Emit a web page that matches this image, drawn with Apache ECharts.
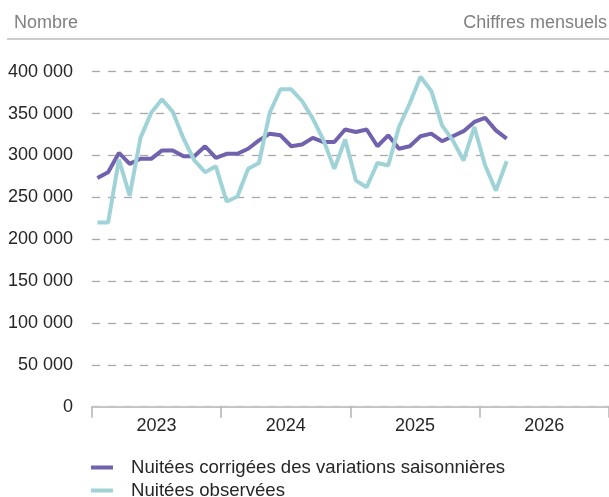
<!DOCTYPE html>
<html><head><meta charset="utf-8">
<script src="https://cdn.jsdelivr.net/npm/echarts@6/dist/echarts.min.js"></script>
<style>html,body{margin:0;padding:0;background:#fff}#c{width:609px;height:497px}</style>
</head><body><div id="c"></div>
<script>
// Monthly categories (Jan 2023 – Dec 2026)
const categories = [
  '2023-01','2023-02','2023-03','2023-04','2023-05','2023-06','2023-07','2023-08','2023-09','2023-10','2023-11','2023-12',
  '2024-01','2024-02','2024-03','2024-04','2024-05','2024-06','2024-07','2024-08','2024-09','2024-10','2024-11','2024-12',
  '2025-01','2025-02','2025-03','2025-04','2025-05','2025-06','2025-07','2025-08','2025-09','2025-10','2025-11','2025-12',
  '2026-01','2026-02','2026-03','2026-04','2026-05','2026-06','2026-07','2026-08','2026-09','2026-10','2026-11','2026-12'
];
const seriesNames = ['Nuitées corrigées des variations saisonnières', 'Nuitées observées'];
const corrigees = [
  273000,280000,303000,290000,296000,296000,306000,306000,299000,299000,311000,297000,
  302000,302000,308000,318000,326000,324000,311000,313000,321000,316000,316000,331000,
  328000,331000,311000,324000,308000,311000,323000,326000,317000,323000,329000,340000,
  345000,330000,320000
];
const observees = [
  220000,220000,295000,252000,321000,351000,367000,352000,320000,294000,280000,287000,
  245000,251000,284000,291000,351000,379000,379000,365000,344000,318000,284000,319000,
  270000,262000,291000,288000,334000,362000,394000,377000,336000,318000,294000,334000,
  288000,258000,293000
];
const yMin = 0, yMax = 400000, yStep = 50000;
const headerLeft = 'Nombre';
const headerRight = 'Chiffres mensuels';

const FONT = '"Liberation Sans", Arial, sans-serif';
const PURPLE = '#7261ad';
const CYAN = '#9fd3d7';

const chart = echarts.init(document.getElementById('c'), null, {renderer: 'canvas'});
const fmt = v => String(v).replace(/\B(?=(\d{3})+(?!\d))/g, ' ');
const legendBase = {
  orient: 'vertical', left: 86,
  icon: 'rect', itemWidth: 22, itemHeight: 4, itemGap: 5,
  textStyle: {fontSize: 18.6, color: '#262626', fontFamily: FONT, padding: [0, 0, 0, 13]},
  selectedMode: false
};

chart.setOption({
  animation: false,
  backgroundColor: '#ffffff',
  textStyle: {fontFamily: FONT},
  grid: {left: 92, width: 519, top: 71.7, bottom: 90.3, containLabel: false},
  xAxis: {
    type: 'category',
    data: categories,
    boundaryGap: true,
    axisLine: {lineStyle: {color: '#c4c4c4', width: 2}},
    axisTick: {show: true, interval: i => i % 12 === 0 && i < 48, length: 11, lineStyle: {color: '#b4b4b4', width: 1.5}},
    axisLabel: {
      interval: i => i % 12 === 6,
      formatter: v => v.slice(0, 4),
      color: '#262626', fontSize: 18, fontFamily: FONT,
      margin: 10, padding: [0, 10.8, 0, 0]
    },
    splitLine: {show: false}
  },
  yAxis: {
    type: 'value', min: yMin, max: yMax, interval: yStep,
    axisLine: {show: false}, axisTick: {show: false},
    axisLabel: {formatter: fmt, color: '#262626', fontSize: 18, fontFamily: FONT, margin: 19},
    splitLine: {show: true, lineStyle: {color: '#a8a8a8', width: 1.3, type: [8, 8]}}
  },
  legend: [
    Object.assign({}, legendBase, {top: 453, data: [seriesNames[0]]}),
    Object.assign({}, legendBase, {top: 476, data: [seriesNames[1]]})
  ],
  graphic: [
    {type: 'text', left: 14, top: 14, style: {text: headerLeft, fill: '#808080', font: '18px ' + FONT}},
    {type: 'text', right: 2, top: 14, style: {text: headerRight, fill: '#808080', font: '18px ' + FONT}},
    {type: 'line', shape: {x1: 7, y1: 39, x2: 609, y2: 39}, style: {stroke: '#cccccc', lineWidth: 2}}
  ],
  series: [
    {name: seriesNames[0], type: 'line', data: corrigees, symbol: 'none', color: PURPLE,
     lineStyle: {color: PURPLE, width: 4}, z: 2},
    {name: seriesNames[1], type: 'line', data: observees, symbol: 'none', color: CYAN,
     lineStyle: {color: CYAN, width: 4}, z: 3}
  ]
});
</script></body></html>
